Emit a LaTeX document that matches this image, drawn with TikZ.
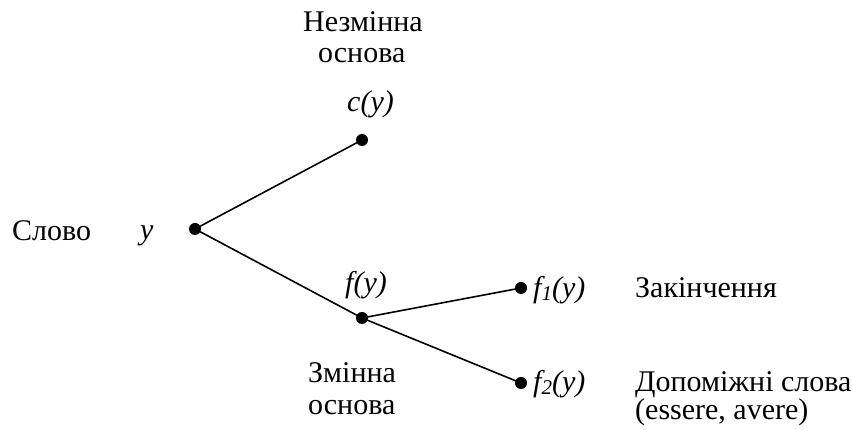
\documentclass[tikz,border=0pt]{standalone}
\usepackage{fontspec}
\setmainfont{Liberation Serif}
\begin{document}
\begin{tikzpicture}[x=1pt,y=1pt,
  dotnode/.style={circle,fill=black,inner sep=0pt,minimum size=12pt},
  txt/.style={anchor=base west,inner sep=0pt,font=\fontsize{30}{34}\selectfont},
  itxt/.style={txt,font=\fontsize{30}{34}\selectfont\itshape},
  edge/.style={line width=1.6pt}]
\useasboundingbox (0,0) rectangle (852,430);
\newcommand{\sbx}[1]{\raisebox{-3pt}{\fontsize{21}{21}\selectfont #1}}
% dots
\node[dotnode] (r) at (195,201) {};
\node[dotnode] (c) at (362,290) {};
\node[dotnode] (f) at (362,112) {};
\node[dotnode] (f1) at (521,142) {};
\node[dotnode] (f2) at (521,47) {};
% edges
\draw[edge] (r.center) -- (c.center);
\draw[edge] (r.center) -- (f.center);
\draw[edge] (f.center) -- (f1.center);
\draw[edge] (f.center) -- (f2.center);
% labels
\node[txt] (t1) at (303,398) {Незмінна};
\node[txt] (t2) at (318,367) {основа};
\node[itxt] (lc) at (347,318) {c(y)};
\node[txt] (ls) at (12,189) {Слово};
\node[itxt] (ly) at (140,190) {y};
\node[itxt] (lf) at (345,137) {f(y)};
\node[itxt] (lf1) at (533,132) {f\sbx{1}(y)};
\node[txt] (lz) at (635,132) {Закінчення};
\node[itxt] (lf2) at (533,38) {f\sbx{2}(y)};
\node[txt] (ld) at (635,38) {Допоміжні слова};
\node[txt] (le) at (635,10) {(essere, avere)};
\node[txt] (lm1) at (308,47) {Змінна};
\node[txt] (lm2) at (308,15) {основа};
\end{tikzpicture}
\end{document}
